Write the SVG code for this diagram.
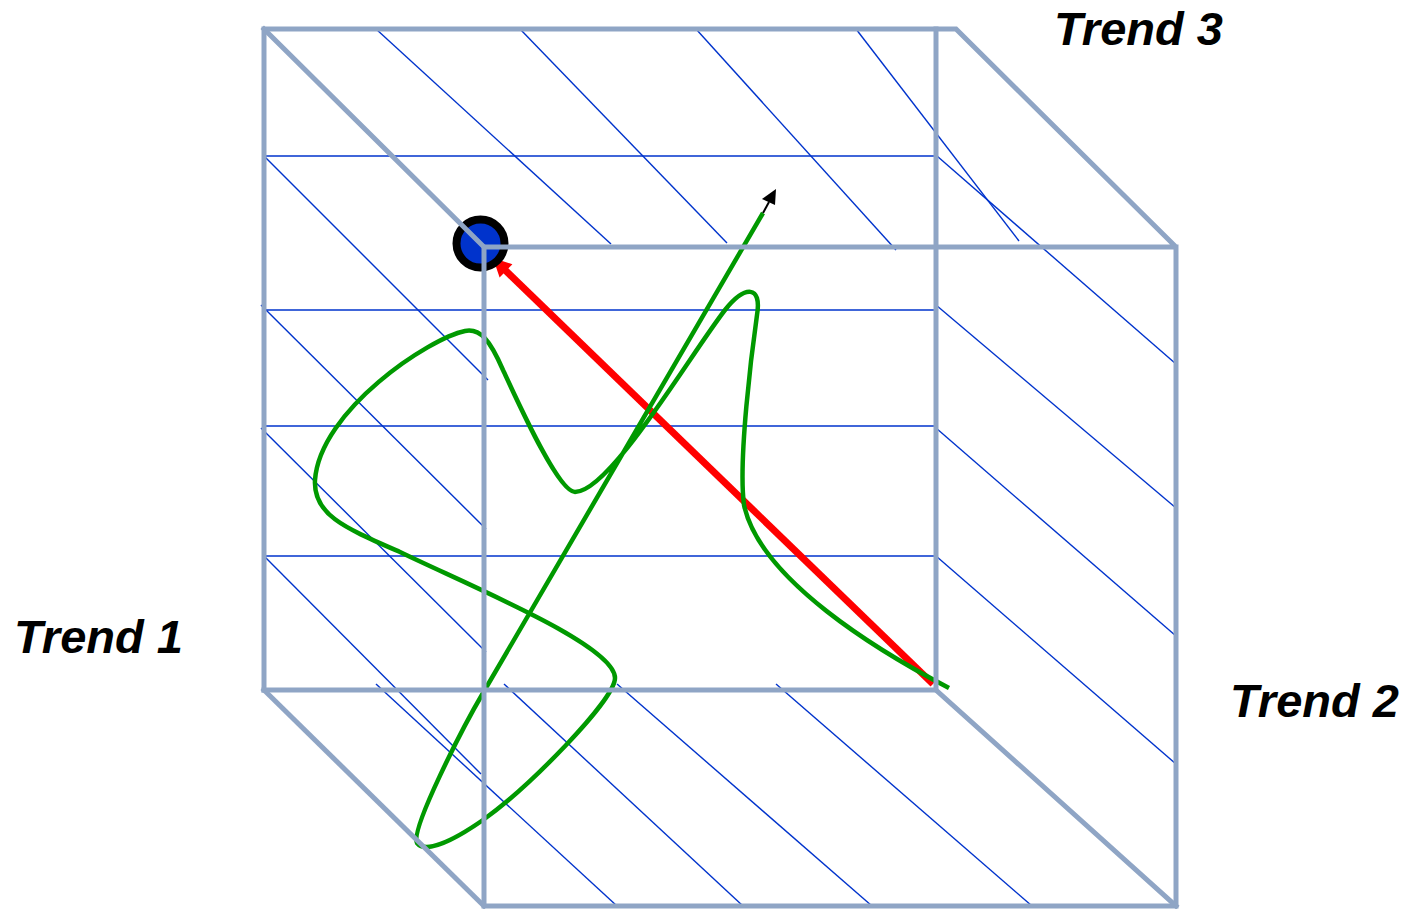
<svg xmlns="http://www.w3.org/2000/svg" width="1407" height="909" viewBox="0 0 1407 909">
<style>
.hatch{stroke:#0033cc;stroke-width:1.4;fill:none}
.frame{stroke:#8fa5c5;stroke-width:5;fill:none;stroke-linejoin:miter;stroke-linecap:square}
.label{font-family:"Liberation Sans",Arial,sans-serif;font-weight:bold;font-style:italic;font-size:47px;fill:#000}
.path{stroke:#009900;stroke-width:4.5;fill:none;stroke-linecap:butt}
</style>
<rect width="1407" height="909" fill="#fff"/>
<g id="hatching" class="hatch">
<line x1="264" y1="156" x2="936" y2="156"/>
<line x1="264" y1="310" x2="936" y2="310"/>
<line x1="264" y1="426" x2="936" y2="426"/>
<line x1="264" y1="556" x2="936" y2="556"/>
<line x1="376" y1="29" x2="611" y2="244"/>
<line x1="520" y1="29" x2="727" y2="243"/>
<line x1="696" y1="29" x2="896" y2="250"/>
<line x1="856" y1="29" x2="1019" y2="241"/>
<line x1="264" y1="156" x2="488" y2="380"/>
<line x1="261" y1="305" x2="486" y2="529"/>
<line x1="261" y1="428" x2="486" y2="652"/>
<line x1="264" y1="556" x2="481" y2="774"/>
<line x1="376" y1="684" x2="617" y2="906"/>
<line x1="504" y1="684" x2="743" y2="906"/>
<line x1="617" y1="684" x2="872" y2="906"/>
<line x1="776" y1="684" x2="1032" y2="906"/>
<line x1="937" y1="156" x2="1176" y2="364"/>
<line x1="936" y1="305" x2="1176" y2="508"/>
<line x1="936" y1="428" x2="1176" y2="636"/>
<line x1="936" y1="556" x2="1176" y2="764"/>
</g>
<g id="connectors">
<g id="red-arrow">
<line x1="933" y1="684" x2="503" y2="268" stroke="#ff0000" stroke-width="7"/>
<polygon points="493,258 499.6,277.5 512.4,264.2" fill="#ff0000"/>
</g>
<path id="green-path" class="path" d="M 949 688 C 880 652 760 580 744 505 C 738 460 752 350 757 315 C 762 285 745 285 725 310 C 690 355 610 492 575 492 C 558 492 517 400 503 370 C 490 340 480 328 465 331 C 430 338 320 410 315 480 C 313 515 345 528 400 552 C 470 586 615 645 615 678 C 615 700 528 788 483 820 C 450 843 425 853 417 843 C 410 830 463 727 483 693 L 763 213"/>
</g>
<g id="target-node">
<circle cx="480.5" cy="243.5" r="24" fill="#0033cc" stroke="#000" stroke-width="8"/>
</g>
<g id="cube-frame" class="frame">
<polyline points="264,690 264,29 956,29 1176,247 1176,906 484,906 484,247 1176,247"/>
<line x1="264" y1="29" x2="484" y2="247"/>
<polyline points="264,690 936,690 936,29"/>
<line x1="264" y1="690" x2="484" y2="906"/>
<line x1="936" y1="690" x2="1176" y2="906"/>
</g>
<g id="direction-arrow">
<line x1="763" y1="213" x2="769" y2="202" stroke="#000" stroke-width="2"/>
<polygon points="776,189 762,199 775,205" fill="#000"/>
</g>
<g id="label-trend3"><text class="label" x="1054" y="45">Trend 3</text></g>
<g id="label-trend1"><text class="label" x="14" y="653">Trend 1</text></g>
<g id="label-trend2"><text class="label" x="1230" y="717">Trend 2</text></g>
</svg>
